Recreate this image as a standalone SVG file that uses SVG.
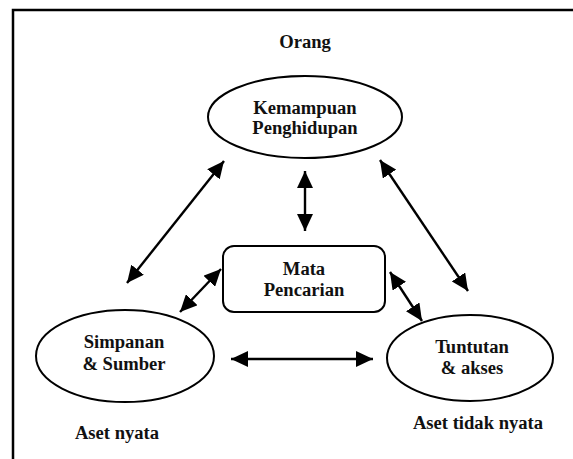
<svg xmlns="http://www.w3.org/2000/svg" width="573" height="459" viewBox="0 0 573 459">
<style>
.t{font-family:"Liberation Serif","Times New Roman",serif;font-weight:bold;font-size:18.6px;fill:#111;text-anchor:middle}
.s{fill:#fff;stroke:#000;stroke-width:2}
.c{stroke:#000;stroke-width:2.4;fill:none;marker-start:url(#ah);marker-end:url(#ah)}
</style>
<defs>
<marker id="ah" markerUnits="userSpaceOnUse" markerWidth="19" markerHeight="16" refX="17" refY="8" orient="auto-start-reverse">
<path d="M0,0 L17,8 L0,16 z" fill="#000"/>
</marker>
</defs>
<rect width="573" height="459" fill="#fff"/>
<path d="M13,470 L13,10 L580,10" fill="none" stroke="#000" stroke-width="2.5"/>
<text class="t" x="305" y="48">Orang</text>
<g id="kemampuan">
<ellipse class="s" cx="305" cy="117" rx="97" ry="41"/>
<text class="t" x="305" y="114">Kemampuan</text>
<text class="t" x="305" y="134">Penghidupan</text>
</g>
<g id="mata">
<rect class="s" x="223" y="246" width="162" height="66" rx="11"/>
<text class="t" x="304" y="275">Mata</text>
<text class="t" x="304" y="296">Pencarian</text>
</g>
<g id="simpanan">
<ellipse class="s" cx="125" cy="356" rx="89" ry="46"/>
<text class="t" x="124" y="348">Simpanan</text>
<text class="t" x="124" y="370">&amp; Sumber</text>
</g>
<g id="tuntutan">
<ellipse class="s" cx="470" cy="358" rx="83" ry="43"/>
<text class="t" x="472" y="353">Tuntutan</text>
<text class="t" x="472" y="374">&amp; akses</text>
</g>
<text class="t" x="117" y="439">Aset nyata</text>
<text class="t" x="478" y="429">Aset tidak nyata</text>
<g id="connectors">
<line class="c" x1="127" y1="283" x2="224" y2="161"/>
<line class="c" x1="305" y1="171" x2="305" y2="231"/>
<line class="c" x1="380" y1="160" x2="468" y2="291"/>
<line class="c" x1="180" y1="312" x2="221" y2="269"/>
<line class="c" x1="390" y1="272" x2="422" y2="321"/>
<line class="c" x1="231" y1="359" x2="373" y2="359"/>
</g>
</svg>
